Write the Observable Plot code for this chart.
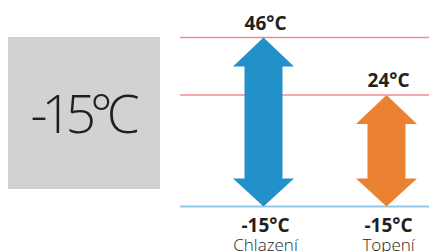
<!DOCTYPE html>
<html>
<head>
<meta charset="utf-8">
<script src="https://cdn.jsdelivr.net/npm/d3@7"></script>
<script src="https://cdn.jsdelivr.net/npm/@observablehq/plot@0.6"></script>
<style>
  html, body { margin: 0; padding: 0; background: #fff; }
  #wrap { position: relative; width: 429px; height: 252px; overflow: hidden; font-family: "Open Sans", sans-serif; }
  #box { position: absolute; left: 8px; top: 37px; width: 152px; height: 152px; background: #d1d2d4; }
  #boxText { position: absolute; left: 0; width: 152px; top: 46px; text-align: center; font-size: 53px; line-height: 60px; font-weight: 300; color: #231f20; letter-spacing: -6px; text-indent: -4px; }
  #chart { position: absolute; left: 168px; top: 0; }
</style>
</head>
<body>
<div id="wrap">
  <div id="box"><div id="boxText"></div></div>
  <div id="chart"></div>
</div>
<script>
const categories = ["Chlazení", "Topení"];
const lowTemps = [-15, -15];
const highTemps = [46, 24];
const arrowColors = ["#2391c9", "#eb8232"];
const currentTemp = -15;
const limitLines = [46, 24];

document.getElementById("boxText").textContent = `${currentTemp}°C`;

const data = categories.map((c, i) => ({cat: c, low: lowTemps[i], high: highTemps[i], color: arrowColors[i]}));

const headUp = {draw(ctx) { ctx.moveTo(0, 0); ctx.lineTo(30.5, 29); ctx.lineTo(-30.5, 29); ctx.closePath(); }};
const headDown = {draw(ctx) { ctx.moveTo(0, 0); ctx.lineTo(30.5, -28); ctx.lineTo(-30.5, -28); ctx.closePath(); }};

// the reference's vertical axis is schematic (not to scale): piecewise linear
const yDomain = [currentTemp, ...limitLines.slice().sort((a, b) => a - b)];

const chart = Plot.plot({
  width: 261,
  height: 252,
  marginLeft: 12,
  marginRight: 0,
  marginTop: 0,
  marginBottom: 0,
  x: {type: "point", domain: categories, range: [95, 218], padding: 0, axis: null},
  y: {type: "linear", domain: yDomain, range: [206, 94.5, 37], axis: null},
  color: {type: "identity"},
  style: {fontFamily: "Open Sans", color: "#231f20", background: "transparent", overflow: "visible"},
  marks: [
    Plot.ruleY(limitLines, {stroke: "#f08a90", strokeWidth: 1.3}),
    Plot.ruleY([currentTemp], {stroke: "#90c8ea", strokeWidth: 2}),
    Plot.ruleX(data, {x: "cat", y1: "high", y2: "low", stroke: "color", strokeWidth: 38, insetTop: 28, insetBottom: 27}),
    Plot.dot(data, {x: "cat", y: "high", fill: "color", symbol: headUp}),
    Plot.dot(data, {x: "cat", y: "low", fill: "color", symbol: headDown}),
    Plot.text(data, {x: "cat", y: "high", text: d => `${d.high}°C`, dy: -8, dx: 2, lineAnchor: "bottom", fontSize: 19, fontWeight: "bold", fill: "#231f20"}),
    Plot.text(data, {x: "cat", y: "low", text: d => `${d.low}°C`, dy: 25, dx: 2, lineAnchor: "bottom", fontSize: 19, fontWeight: "bold", fill: "#231f20"}),
    Plot.text(data, {x: "cat", y: "low", text: "cat", dy: 44, dx: 2, lineAnchor: "bottom", fontSize: 17, fontWeight: 300, fill: "#231f20"})
  ]
});
document.getElementById("chart").appendChild(chart);
</script>
</body>
</html>
